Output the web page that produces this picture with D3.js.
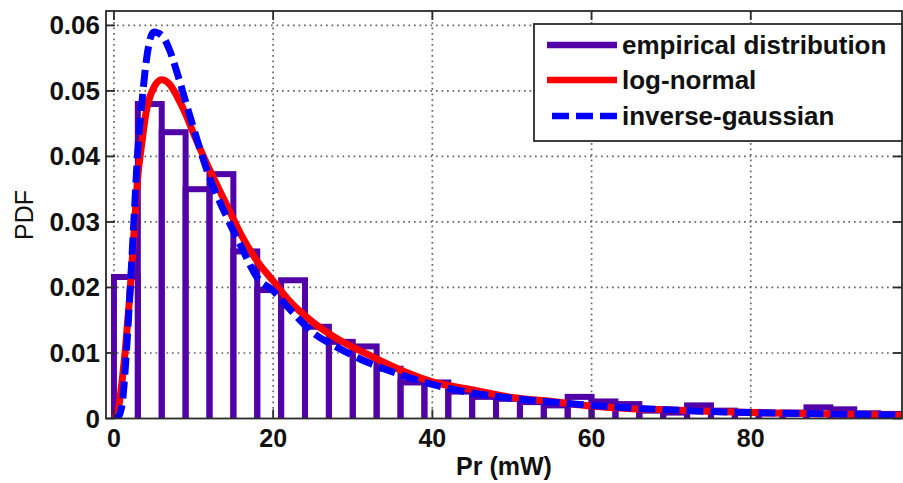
<!DOCTYPE html>
<html>
<head>
<meta charset="utf-8">
<script src="https://cdn.jsdelivr.net/npm/d3@7"></script>
<style>
  html, body { margin: 0; padding: 0; background: #fff; }
  svg { display: block; }
  text { font-family: "Liberation Sans", Arial, Helvetica, sans-serif; fill: #111; }
</style>
</head>
<body>
<svg id="chart" width="903" height="483"></svg>
<script>
// ---------- data ----------
const binWidth = 3;
const binStarts = [0,3,6,9,12,15,18,21,24,27,30,33,36,39,42,45,48,51,54,57,60,63,66,69,72,75,78,81,84,87,90,93,96];
const empirical = [0.0216,0.0480,0.0437,0.0350,0.0373,0.0255,0.0196,0.0211,0.0140,0.0117,0.0110,0.0076,
                   0.0055,0.0055,0.0041,0.0033,0.0030,0.0025,0.0020,0.0033,0.0026,0.0022,0.0012,0.0009,
                   0.0020,0.0012,0.0010,0.0008,0.0009,0.0017,0.0014,0.0008,0.0007];

const curveX    = [0,0.5,1,1.5,2,2.5,3,3.5,4,5,6,7,8,9,10,12,14,16,18,20,22,25,28,32,36,40,45,50,55,60,65,70,80,90,99];
const logNormal = [0,0.0012,0.0055,0.0115,0.019,0.028,0.037,0.042,0.0465,0.0505,0.0517,0.051,0.049,0.0465,0.0435,
                   0.038,0.033,0.028,0.024,0.021,0.018,0.0147,0.0122,0.0097,0.0074,0.0056,0.0044,0.0032,0.0026,
                   0.0019,0.0015,0.0013,0.0009,0.0007,0.0005];
const invGauss  = [0,0.0002,0.002,0.009,0.019,0.030,0.041,0.048,0.054,0.0590,0.0585,0.0562,0.0525,0.0484,0.0443,
                   0.0368,0.0312,0.0262,0.0215,0.0195,0.0168,0.0131,0.0109,0.0085,0.0067,0.0052,0.0039,0.0031,
                   0.0025,0.0020,0.0016,0.0013,0.0009,0.0007,0.0005];

const xTicks = [0,20,40,60,80];
const yTicks = [0,0.01,0.02,0.03,0.04,0.05,0.06];
const yTickLabels = ["0","0.01","0.02","0.03","0.04","0.05","0.06"];
const legendItems = ["empirical distribution","log-normal","inverse-gaussian"];
const xLabel = "Pr (mW)";
const yLabel = "PDF";

// ---------- layout ----------
const L = 106, R = 902, T = 11, B = 418.5;
const purple = "#5203a8", red = "#ff0000", blue = "#0000ff";

const svg = d3.select("#chart");
const x = d3.scaleLinear().domain([-1, 99]).range([L, R]);
const y = d3.scaleLinear().domain([0, 0.0622]).range([B, T]);

svg.append("defs").append("clipPath").attr("id", "clip")
  .append("rect").attr("x", L).attr("y", T).attr("width", R - L).attr("height", B - T);

// grid
const grid = svg.append("g").attr("stroke", "#666").attr("stroke-width", 1.7)
  .attr("stroke-dasharray", "1.7,3.8");
grid.selectAll("line.v").data(xTicks).join("line")
  .attr("x1", d => x(d)).attr("x2", d => x(d)).attr("y1", T).attr("y2", B);
grid.selectAll("line.h").data(yTicks.filter(d => d > 0)).join("line")
  .attr("x1", L).attr("x2", R).attr("y1", d => y(d)).attr("y2", d => y(d));

const plot = svg.append("g").attr("clip-path", "url(#clip)");

// histogram bars (outline only)
plot.selectAll("rect.bar").data(empirical).join("rect")
  .attr("class", "bar")
  .attr("x", (d, i) => x(binStarts[i]))
  .attr("width", (d, i) => x(binStarts[i] + binWidth) - x(binStarts[i]))
  .attr("y", d => y(d))
  .attr("height", d => B - y(d) + 10)
  .attr("fill", "none").attr("stroke", purple).attr("stroke-width", 6);

const line = d3.line().curve(d3.curveMonotoneX);
plot.append("path")
  .attr("d", line(curveX.map((v, i) => [x(v), y(logNormal[i])])))
  .attr("fill", "none").attr("stroke", red).attr("stroke-width", 7);
plot.append("path")
  .attr("d", line(curveX.map((v, i) => [x(v), y(invGauss[i])])))
  .attr("fill", "none").attr("stroke", blue).attr("stroke-width", 7)
  .attr("stroke-dasharray", "17,7");

// frame + ticks
const ax = svg.append("g").attr("stroke", "#2a2a2a").attr("stroke-width", 1.8);
ax.append("rect").attr("x", L).attr("y", T).attr("width", R - L).attr("height", B - T).attr("fill", "none");
const tl = 9;
xTicks.forEach(t => {
  ax.append("line").attr("x1", x(t)).attr("x2", x(t)).attr("y1", B).attr("y2", B - tl);
  ax.append("line").attr("x1", x(t)).attr("x2", x(t)).attr("y1", T).attr("y2", T + tl);
});
yTicks.forEach(t => {
  ax.append("line").attr("x1", L).attr("x2", L + tl).attr("y1", y(t)).attr("y2", y(t));
  ax.append("line").attr("x1", R).attr("x2", R - tl).attr("y1", y(t)).attr("y2", y(t));
});

// tick labels
svg.append("g").selectAll("text").data(xTicks).join("text")
  .attr("x", d => x(d)).attr("y", 447)
  .attr("text-anchor", "middle").attr("font-size", 25).attr("font-weight", "bold")
  .text(d => d);
svg.append("g").selectAll("text").data(yTicks).join("text")
  .attr("x", 100).attr("y", d => y(d) + 9)
  .attr("text-anchor", "end").attr("font-size", 26).attr("font-weight", "bold")
  .text((d, i) => yTickLabels[i]);

// axis labels
svg.append("text").attr("x", (L + R) / 2).attr("y", 475)
  .attr("text-anchor", "middle").attr("font-size", 25).attr("font-weight", "bold")
  .text(xLabel);
svg.append("text").attr("transform", "translate(33,215) rotate(-90)")
  .attr("text-anchor", "middle").attr("font-size", 25)
  .text(yLabel);

// legend
const lg = svg.append("g");
lg.append("rect").attr("x", 534).attr("y", 24).attr("width", R - 534).attr("height", 117)
  .attr("fill", "#fff").attr("stroke", "#2a2a2a").attr("stroke-width", 1.8);
const lgY = [45, 80, 116];
const lgStyle = [
  {c: purple, dash: null},
  {c: red, dash: null},
  {c: blue, dash: "17,7"}
];
legendItems.forEach((name, i) => {
  const ln = lg.append("line").attr("x1", 547).attr("x2", 617).attr("y1", lgY[i]).attr("y2", lgY[i])
    .attr("stroke", lgStyle[i].c).attr("stroke-width", 6.5);
  if (lgStyle[i].dash) ln.attr("stroke-dasharray", lgStyle[i].dash).attr("x1", 552);
  lg.append("text").attr("x", 622).attr("y", lgY[i] + 9)
    .attr("font-size", 26).attr("font-weight", "bold").text(name);
});
</script>
</body>
</html>
